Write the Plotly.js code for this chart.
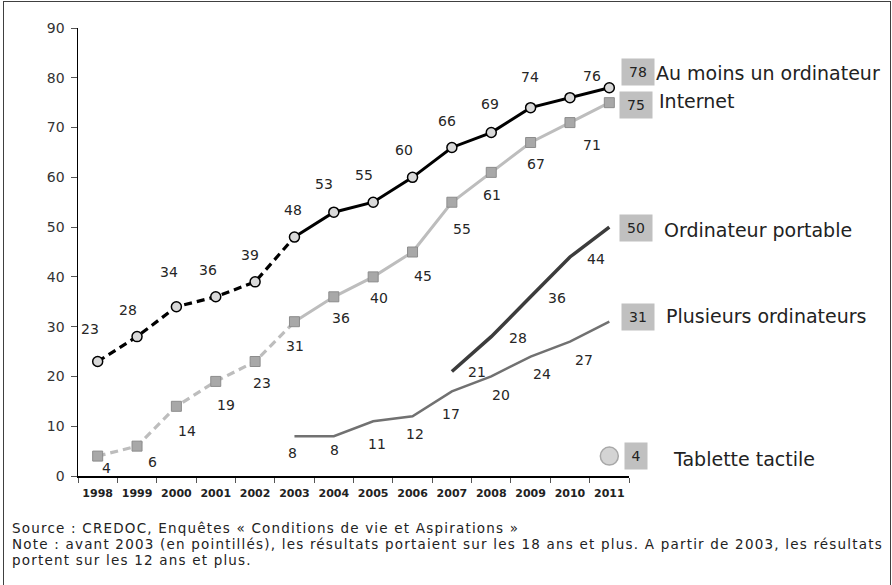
<!DOCTYPE html>
<html><head><meta charset="utf-8">
<script src="https://cdn.plot.ly/plotly-3.0.1.min.js"></script>
<style>
html,body{margin:0;padding:0;background:#fff;overflow:hidden;}
#wrap{position:relative;width:892px;height:585px;}
#chart{width:892px;height:585px;}
#frame{position:absolute;left:3px;top:1px;width:886px;height:600px;border:1px solid #404040;pointer-events:none;}
</style></head><body>
<div id="wrap"><div id="chart"></div><div id="frame"></div></div>
<script>
// ---- data ----
const years = ['1998','1999','2000','2001','2002','2003','2004','2005','2006','2007','2008','2009','2010','2011'];
const auMoins = [23,28,34,36,39,48,53,55,60,66,69,74,76,78];
const internet = [4,6,14,19,23,31,36,40,45,55,61,67,71,75];
const portableYears = ['2007','2008','2009','2010','2011'];
const portable = [21,28,36,44,50];
const plusieursYears = ['2003','2004','2005','2006','2007','2008','2009','2010','2011'];
const plusieurs = [8,8,11,12,17,20,24,27,31];
const tabletteYears = ['2011'];
const tablette = [4];
const seriesNames = ['Au moins un ordinateur','Internet','Ordinateur portable','Plusieurs ordinateurs','Tablette tactile'];
const breakYear = '2003';
const yTicks = [0,10,20,30,40,50,60,70,80,90];
const sourceLines = [
  'Source : CREDOC, Enquêtes « Conditions de vie et Aspirations »',
  'Note : avant 2003 (en pointillés), les résultats portaient sur les 18 ans et plus. A partir de 2003, les résultats',
  'portent sur les 12 ans et plus.'
];

// ---- label placement (pixel offsets from each point, style only) ----
const auDx = [-8,-9,-7,-8,-5,-1,-10,-9,-9,-5,-1,-1,22];
const auDy = [-33,-27,-35,-27,-27,-27,-28,-27,-27,-26,-29,-31,-22];
const inDx = [9,15,11,10,7,1,7,6,10,10,1,5,22];
const inDy = [12,16,25,24,21,24,21,21,24,27,23,22,22];
const poDx = [25,27,26,26];
const poDy = [1,1,1,2];
const plDx = [-2,1,4,2,-1,10,11,14];
const plDy = [17,14,23,18,23,19,17,18];
// legend box / name offsets relative to the 2011 point
const legendStyle = [
  {bx:29, by:-16, bw:32, nx:45, ny:-15},
  {bx:27, by:2,   bw:32, nx:48, ny:-2},
  {bx:27, by:1,   bw:32, nx:53, ny:3},
  {bx:29, by:-5,  bw:32, nx:55, ny:-6},
  {bx:27, by:0,   bw:22, nx:62, ny:3}
];

const bi = years.indexOf(breakYear);
const FONT = 'DejaVu Sans';
const dashPat = '8px,5px';

const traces = [
  {x: years.slice(0,bi+1), y: auMoins.slice(0,bi+1), mode:'lines', line:{color:'#000', width:3.2, dash:dashPat}},
  {x: years.slice(bi), y: auMoins.slice(bi), mode:'lines', line:{color:'#000', width:3}},
  {x: years.slice(0,bi+1), y: internet.slice(0,bi+1), mode:'lines', line:{color:'#bdbdbd', width:3.2, dash:dashPat}},
  {x: years.slice(bi), y: internet.slice(bi), mode:'lines', line:{color:'#bdbdbd', width:3}},
  {x: years, y: internet, mode:'markers', marker:{symbol:'square', size:10, color:'#a8a8a8', line:{color:'#8c8c8c', width:1}}},
  {x: years, y: auMoins, mode:'markers', marker:{symbol:'circle', size:10, color:'#d9d9d9', line:{color:'#000', width:1.5}}},
  {x: portableYears, y: portable, mode:'lines', line:{color:'#3c3c3c', width:3.5}},
  {x: plusieursYears, y: plusieurs, mode:'lines', line:{color:'#717171', width:2.5}},
  {x: tabletteYears, y: tablette, mode:'markers', cliponaxis:false, marker:{symbol:'circle', size:18, color:'#d4d4d4', line:{color:'#a8a8a8', width:1.5}}}
];

const ann = [];
const lblFont = {family:FONT, size:14, color:'#262626'};
const catIndex = (yr) => years.indexOf(yr);
function addLabels(xs, ys, dx, dy) {
  for (let i = 0; i < dx.length; i++) {
    ann.push({x: catIndex(xs[i]), y: ys[i], xref:'x', yref:'y', text:String(ys[i]), showarrow:false,
      xshift: dx[i], yshift: -dy[i], xanchor:'center', yanchor:'middle', font: lblFont});
  }
}
addLabels(years, auMoins, auDx, auDy);
addLabels(years, internet, inDx, inDy);
addLabels(portableYears, portable, poDx, poDy);
addLabels(plusieursYears, plusieurs, plDx, plDy);

const lastVals = [auMoins[auMoins.length-1], internet[internet.length-1], portable[portable.length-1], plusieurs[plusieurs.length-1], tablette[tablette.length-1]];
const lastIdx = catIndex(years[years.length-1]);
for (let k = 0; k < seriesNames.length; k++) {
  const s = legendStyle[k];
  ann.push({x:lastIdx, y:lastVals[k], xref:'x', yref:'y', text:String(lastVals[k]), showarrow:false,
    xshift:s.bx, yshift:-s.by, xanchor:'center', yanchor:'middle', width:s.bw, height:26,
    bgcolor:'#c0c0c0', borderpad:0, font:{family:FONT, size:14, color:'#222'}});
  ann.push({x:lastIdx, y:lastVals[k], xref:'x', yref:'y', text:seriesNames[k], showarrow:false,
    xshift:s.nx, yshift:-s.ny, xanchor:'left', yanchor:'middle', font:{family:FONT, size:19, color:'#222'}});
}
const srcY = [-52, -68, -84];
for (let i = 0; i < sourceLines.length; i++) {
  ann.push({x:0, y:0, xref:'paper', yref:'paper',
    text:'<span style="letter-spacing:1.2px">' + sourceLines[i] + '</span>', showarrow:false,
    xshift:-68, yshift:srcY[i], xanchor:'left', yanchor:'middle', font:{family:FONT, size:13.5, color:'#222'}});
}

const layout = {
  width:892, height:585,
  margin:{l:78, r:263, t:28, b:109},
  paper_bgcolor:'#fff', plot_bgcolor:'#fff',
  showlegend:false,
  font:{family:FONT, color:'#222'},
  xaxis:{type:'category', range:[-0.5, 13.5], tickson:'boundaries', ticks:'outside', ticklen:5, tickcolor:'#555',
    showline:true, linecolor:'#000', linewidth:1.5, showgrid:false, zeroline:false, fixedrange:true, tickangle:0,
    ticklabelstandoff:6,
    tickfont:{family:FONT, size:11, weight:'bold', color:'#222'}},
  yaxis:{range:[0,90], tickvals:yTicks, ticks:'outside', ticklen:6, tickcolor:'#555', ticklabelstandoff:3,
    showline:true, linecolor:'#000', linewidth:1.5, showgrid:false, zeroline:false, fixedrange:true,
    tickfont:{family:FONT, size:14, color:'#333'}},
  annotations: ann
};
Plotly.newPlot('chart', traces, layout, {displayModeBar:false, staticPlot:true});
</script>
</body></html>
